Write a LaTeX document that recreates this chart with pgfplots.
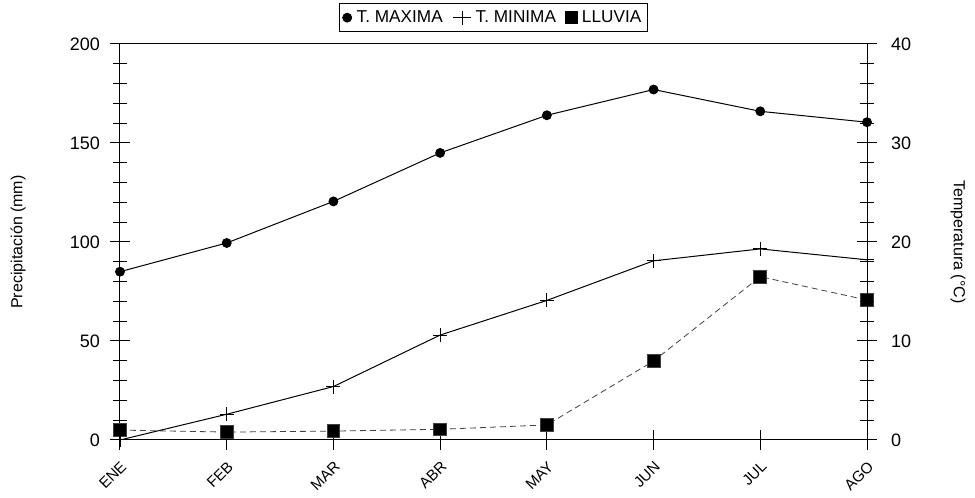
\documentclass[border=0pt]{standalone}
\usepackage{fontspec}
\setmainfont{Liberation Sans}
\usepackage{pgfplots}
\pgfplotsset{compat=1.18}

\pgfplotstableread{
x mm
0 5.0
1 4.0
2 4.5
3 5.4
4 7.6
5 39.9
6 82.5
7 70.7
}\lluvia
\pgfplotstableread{
x tmax tmin
0 17.0 0.0
1 19.9 2.6
2 24.1 5.4
3 29.0 10.6
4 32.8 14.1
5 35.4 18.1
6 33.2 19.3
7 32.1 18.2
}\temps

\begin{document}
\begin{tikzpicture}
\pgfplotsset{
  common/.style={
    scale only axis, width=373.5pt, height=198pt,
    at={(0,0)}, anchor=south west,
    xmin=0, xmax=7,
    /pgf/number format/assume math mode=true,
    tick align=center,
    major tick length=10pt, minor tick length=7pt,
    every tick/.style={black, line width=0.5pt},
    ticklabel style={font=\fontsize{9}{10}\selectfont},
    label style={font=\fontsize{8}{9.5}\selectfont},
    axis line style={line width=0.5pt},
  },
  mini/.style={legend image code/.code={
      \draw[##1, mark=none] (0pt,0pt) -- (9pt,0pt);
      \path[##1] plot coordinates {(4.5pt,0pt)};}},
  solo/.style={legend image code/.code={
      \path[##1, mark=none] (0pt,0pt) -- (5pt,0pt);
      \path[##1] plot coordinates {(2.5pt,0pt)};}},
}
\begin{axis}[common,
  ymin=0, ymax=200, ytick={0,50,...,200}, minor ytick={0,10,...,200},
  xtick={0,...,7}, xticklabels={ENE,FEB,MAR,ABR,MAY,JUN,JUL,AGO},
  xtick pos=left,
  xticklabel style={rotate=45, anchor=north east, xshift=-2.5pt, yshift=-2.5pt,
    inner sep=1pt, font=\fontsize{7.6}{9}\selectfont},
  yticklabel style={xshift=-1.5pt},
  axis y line*=left,
  ylabel={Precipitación (mm)},
  ylabel style={at={(axis description cs:-0.1365,0.5)}, anchor=center, rotate=0},
]
\addplot[black!75, line width=0.4pt, dash pattern=on 3pt off 2pt,
  mark=square*, mark size=3.2pt, mark options={solid, fill=black}]
  table[x=x, y=mm] {\lluvia};
\end{axis}
\begin{axis}[common,
  ymin=0, ymax=40, ytick={0,10,...,40}, minor ytick={0,2,...,40},
  xtick=\empty,
  axis y line*=right, axis x line=none,
  yticklabel style={xshift=3.5pt},
  ylabel={Temperatura (°C)},
  ylabel style={at={(axis description cs:1.1218,0.5)}, anchor=center, rotate=180},
  legend style={at={(0.5,1)}, anchor=south, yshift=6pt, legend columns=3,
    draw=black, line width=0.5pt, font=\fontsize{8.6}{10}\selectfont,
    inner sep=1.2pt,
    /tikz/every even column/.append style={column sep=3pt}},
  legend cell align=left,
]
\addplot[black, line width=0.5pt, mark=*, mark size=2.2pt, solo]
  table[x=x, y=tmax] {\temps};
\addlegendentry{T. MAXIMA}
\addplot[black, line width=0.5pt, mark=+, mark size=3.5pt, mini]
  table[x=x, y=tmin] {\temps};
\addlegendentry{T. MINIMA}
\addlegendimage{black, mark=square*, mark size=3pt, solo}
\addlegendentry{LLUVIA}
\end{axis}
\pgfresetboundingbox
\path[use as bounding box] (-60pt,-29pt) rectangle (427.5pt,220pt);
\end{tikzpicture}
\end{document}
